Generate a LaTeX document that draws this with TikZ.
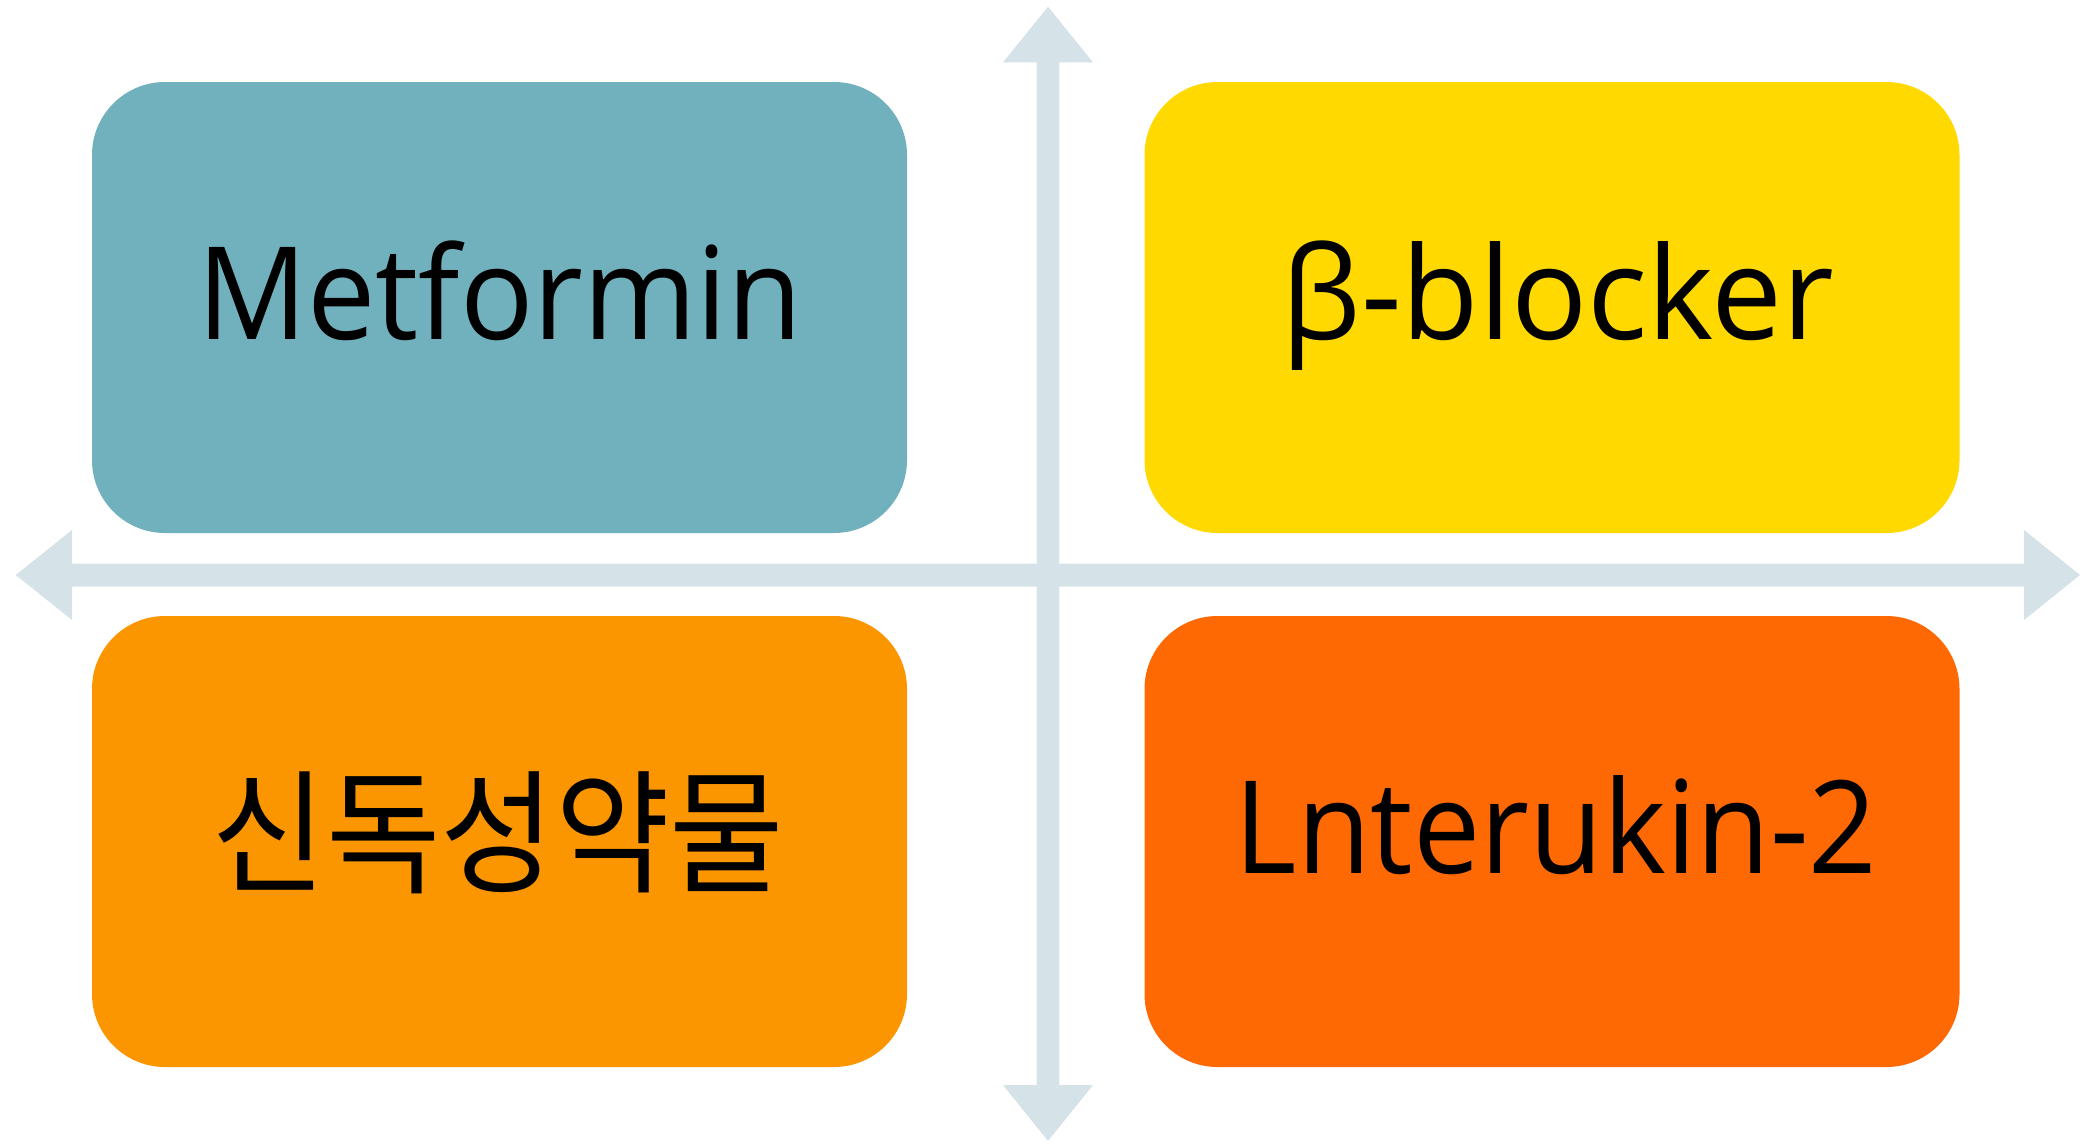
\documentclass[tikz,border=0pt]{standalone}
\usepackage{fontspec}
\setmainfont{Open Sans}
\newfontfamily\krfont{Noto Sans CJK KR}
\definecolor{cteal}{HTML}{71B1BD}
\definecolor{cyellow}{HTML}{FFD900}
\definecolor{corange}{HTML}{FB9600}
\definecolor{cdark}{HTML}{FF6904}
\definecolor{carrow}{HTML}{D5E3E8}
\begin{document}
\begin{tikzpicture}[x=1pt,y=-1pt,
  quad/.style={rounded corners=73pt, minimum width=815pt, minimum height=451pt, inner sep=0pt},
  lbl/.style={anchor=base, inner sep=0pt, font=\fontsize{129}{150}\selectfont}]
\useasboundingbox (0,0) rectangle (2100,1143);
% axes
\fill[carrow] (15.7,575) -- (72,530) -- (72,563.5) -- (2024,563.5) -- (2024,530) -- (2080,575)
  -- (2024,620) -- (2024,586.5) -- (72,586.5) -- (72,620) -- cycle;
\fill[carrow] (1048,6.7) -- (1093,62.3) -- (1059.3,62.3) -- (1059.3,1085) -- (1093,1085) -- (1048,1141)
  -- (1003,1085) -- (1036.7,1085) -- (1036.7,62.3) -- (1003,62.3) -- cycle;
% boxes
\node[quad, fill=cteal] (tl) at (499.5,307.5) {};
\node[quad, fill=cyellow] (tr) at (1552,307.5) {};
\node[quad, fill=corange] (bl) at (499.5,841.5) {};
\node[quad, fill=cdark] (br) at (1552,841.5) {};
% labels
\node[lbl] (t1) at (500,339) {\scalebox{0.945}[1]{Metformin}};
\node[lbl] (t2) at (1558,339) {\scalebox{0.98}[1]{β-blocker}};
\node[lbl, font=\krfont\fontsize{134}{150}\selectfont] (t3) at (498,882) {\scalebox{0.93}[1]{신독성약물}};
\node[lbl] (t4) at (1556,873) {\scalebox{0.93}[1]{Lnterukin-2}};
\end{tikzpicture}
\end{document}
